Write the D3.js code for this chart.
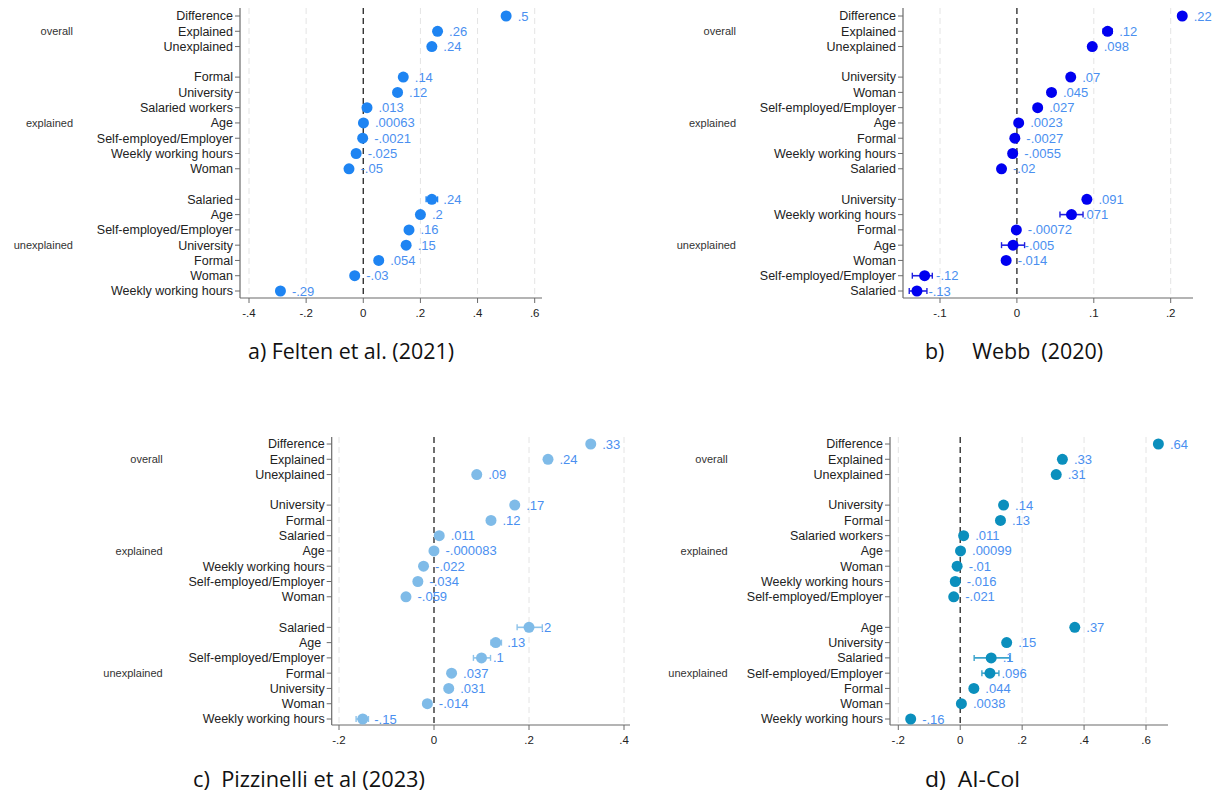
<!DOCTYPE html>
<html>
<head>
<meta charset="utf-8">
<script src="https://cdn.jsdelivr.net/npm/d3@7"></script>
<style>
html,body{margin:0;padding:0;background:#fff;}
svg{display:block;}
</style>
</head>
<body>
<svg id="chart" width="1217" height="796"></svg>
<script>
// ---------- DATA ----------
const groupNames = ["overall", "explained", "unexplained"];

// Panel a) Felten et al. (2021)
const aOverall = ["Difference", "Explained", "Unexplained"];
const aOverallVals = [0.5, 0.26, 0.24];
const aExplained = ["Formal", "University", "Salaried workers", "Age", "Self-employed/Employer", "Weekly working hours", "Woman"];
const aExplainedVals = [0.14, 0.12, 0.013, 0.00063, -0.0021, -0.025, -0.05];
const aUnexplained = ["Salaried", "Age", "Self-employed/Employer", "University", "Formal", "Woman", "Weekly working hours"];
const aUnexplainedVals = [0.24, 0.2, 0.16, 0.15, 0.054, -0.03, -0.29];
const aLabels = [".5", ".26", ".24", ".14", ".12", ".013", ".00063", "-.0021", "-.025", "-.05", ".24", ".2", ".16", ".15", ".054", "-.03", "-.29"];
const aCI = [null, null, null, null, null, null, null, null, null, null, [0.22, 0.26], null, [0.15, 0.17], null, null, null, null];
const aTicks = [-0.4, -0.2, 0, 0.2, 0.4, 0.6];
const aTickLabels = ["-.4", "-.2", "0", ".2", ".4", ".6"];

// Panel b) Webb (2020)
const bOverall = ["Difference", "Explained", "Unexplained"];
const bOverallVals = [0.215, 0.118, 0.098];
const bExplained = ["University", "Woman", "Self-employed/Employer", "Age", "Formal", "Weekly working hours", "Salaried"];
const bExplainedVals = [0.07, 0.045, 0.027, 0.0023, -0.0027, -0.0055, -0.02];
const bUnexplained = ["University", "Weekly working hours", "Formal", "Age", "Woman", "Self-employed/Employer", "Salaried"];
const bUnexplainedVals = [0.091, 0.071, -0.00072, -0.005, -0.014, -0.12, -0.13];
const bLabels = [".22", ".12", ".098", ".07", ".045", ".027", ".0023", "-.0027", "-.0055", "-.02", ".091", ".071", "-.00072", "-.005", "-.014", "-.12", "-.13"];
const bCI = [null, [0.112, 0.124], null, null, null, null, null, null, null, null, null, [0.056, 0.086], null, [-0.02, 0.01], null, [-0.136, -0.11], [-0.14, -0.117]];
const bTicks = [-0.1, 0, 0.1, 0.2];
const bTickLabels = ["-.1", "0", ".1", ".2"];

// Panel c) Pizzinelli et al (2023)
const cOverall = ["Difference", "Explained", "Unexplained"];
const cOverallVals = [0.33, 0.24, 0.09];
const cExplained = ["University", "Formal", "Salaried", "Age", "Weekly working hours", "Self-employed/Employer", "Woman"];
const cExplainedVals = [0.17, 0.12, 0.011, -0.000083, -0.022, -0.034, -0.059];
const cUnexplained = ["Salaried", "Age ", "Self-employed/Employer", "Formal", "University", "Woman", "Weekly working hours"];
const cUnexplainedVals = [0.2, 0.13, 0.1, 0.037, 0.031, -0.014, -0.15];
const cLabels = [".33", ".24", ".09", ".17", ".12", ".011", "-.000083", "-.022", "-.034", "-.059", ".2", ".13", ".1", ".037", ".031", "-.014", "-.15"];
const cCI = [null, null, null, null, null, null, null, null, null, null, [0.175, 0.228], [0.12, 0.142], [0.083, 0.119], null, null, null, [-0.164, -0.138]];
const cTicks = [-0.2, 0, 0.2, 0.4];
const cTickLabels = ["-.2", "0", ".2", ".4"];

// Panel d) AI-Col
const dOverall = ["Difference", "Explained", "Unexplained"];
const dOverallVals = [0.64, 0.33, 0.31];
const dExplained = ["University", "Formal", "Salaried workers", "Age", "Woman", "Weekly working hours", "Self-employed/Employer"];
const dExplainedVals = [0.14, 0.13, 0.011, 0.00099, -0.01, -0.016, -0.021];
const dUnexplained = ["Age", "University", "Salaried", "Self-employed/Employer", "Formal", "Woman", "Weekly working hours"];
const dUnexplainedVals = [0.37, 0.15, 0.1, 0.096, 0.044, 0.0038, -0.16];
const dLabels = [".64", ".33", ".31", ".14", ".13", ".011", ".00099", "-.01", "-.016", "-.021", ".37", ".15", ".1", ".096", ".044", ".0038", "-.16"];
const dCI = [null, null, null, null, null, null, null, null, null, null, null, null, [0.045, 0.16], [0.07, 0.125], null, null, null];
const dTicks = [-0.2, 0, 0.2, 0.4, 0.6];
const dTickLabels = ["-.2", "0", ".2", ".4", ".6"];

const captions = ["a) Felten et al. (2021)", "b)     Webb  (2020)", "c)  Pizzinelli et al (2023)", "d)  AI-Col"];

// ---------- DRAW ----------
const svg = d3.select("#chart");
const FONT = "'Liberation Sans', Arial, sans-serif";

function drawPanel(cfg) {
  const g = svg.append("g");
  const names = cfg.overall.concat(cfg.explained, cfg.unexplained);
  const vals = cfg.overallVals.concat(cfg.explainedVals, cfg.unexplainedVals);
  const rows = [0, 1, 2, 4, 5, 6, 7, 8, 9, 10, 12, 13, 14, 15, 16, 17, 18];
  const y = d3.scaleLinear().domain([0, 18]).range([cfg.rowTop, cfg.rowBot]);
  const x = d3.scaleLinear().domain(cfg.xDomain).range(cfg.xRange);

  // grid lines
  cfg.ticks.forEach(t => {
    if (t === 0) return;
    g.append("line").attr("x1", x(t)).attr("x2", x(t))
      .attr("y1", cfg.axisTop).attr("y2", cfg.axisBottom)
      .attr("stroke", "#e4e4e4").attr("stroke-width", 1).attr("stroke-dasharray", "6,4");
  });

  // axes
  g.append("line").attr("x1", cfg.axisX).attr("x2", cfg.axisX)
    .attr("y1", cfg.axisTop).attr("y2", cfg.axisBottom)
    .attr("stroke", "#6b6b6b").attr("stroke-width", 1.2);
  g.append("line").attr("x1", cfg.axisX).attr("x2", cfg.right)
    .attr("y1", cfg.axisBottom).attr("y2", cfg.axisBottom)
    .attr("stroke", "#6b6b6b").attr("stroke-width", 1.2);

  // y ticks and labels
  names.forEach((n, i) => {
    const yy = y(rows[i]);
    g.append("line").attr("x1", cfg.axisX - 5).attr("x2", cfg.axisX)
      .attr("y1", yy).attr("y2", yy).attr("stroke", "#6b6b6b").attr("stroke-width", 1);
    g.append("text").attr("x", cfg.axisX - 7).attr("y", yy).attr("dy", "0.35em")
      .attr("text-anchor", "end").attr("font-family", FONT).attr("font-size", 12.5)
      .attr("fill", "#222").style("white-space", "pre").text(n);
  });

  // group labels
  [1, 7, 15].forEach((r, i) => {
    g.append("text").attr("x", cfg.groupRight).attr("y", y(r)).attr("dy", "0.35em")
      .attr("text-anchor", "end").attr("font-family", FONT).attr("font-size", 11)
      .attr("fill", "#333").text(groupNames[i]);
  });

  // x ticks
  cfg.ticks.forEach((t, i) => {
    g.append("line").attr("x1", x(t)).attr("x2", x(t))
      .attr("y1", cfg.axisBottom).attr("y2", cfg.axisBottom + 5)
      .attr("stroke", "#6b6b6b").attr("stroke-width", 1);
    g.append("text").attr("x", x(t)).attr("y", cfg.axisBottom + 15).attr("dy", "0.35em")
      .attr("text-anchor", "middle").attr("font-family", FONT).attr("font-size", 11.5)
      .attr("fill", "#222").text(cfg.tickLabels[i]);
  });

  // zero line
  g.append("line").attr("x1", x(0)).attr("x2", x(0))
    .attr("y1", cfg.axisTop).attr("y2", cfg.axisBottom)
    .attr("stroke", "#333").attr("stroke-width", 1.4).attr("stroke-dasharray", "6,4");

  // CIs
  cfg.ci.forEach((c, i) => {
    if (!c) return;
    const yy = y(rows[i]);
    g.append("line").attr("x1", x(c[0])).attr("x2", x(c[1])).attr("y1", yy).attr("y2", yy)
      .attr("stroke", cfg.ciColor).attr("stroke-width", 1.6);
    c.forEach(v => {
      g.append("line").attr("x1", x(v)).attr("x2", x(v)).attr("y1", yy - 3).attr("y2", yy + 3)
        .attr("stroke", cfg.ciColor).attr("stroke-width", 1.4);
    });
  });

  // dots
  g.selectAll("circle.dot").data(vals).enter().append("circle")
    .attr("class", "dot")
    .attr("cx", d => x(d)).attr("cy", (d, i) => y(rows[i]))
    .attr("r", cfg.r).attr("fill", cfg.color);

  // value labels
  g.selectAll("text.val").data(vals).enter().append("text")
    .attr("class", "val")
    .attr("x", d => x(d) + cfg.r + 6).attr("y", (d, i) => y(rows[i])).attr("dy", "0.35em")
    .attr("font-family", FONT).attr("font-size", 13).attr("fill", "#4a8ff0")
    .text((d, i) => cfg.labels[i]);
}

drawPanel({
  overall: aOverall, overallVals: aOverallVals, explained: aExplained, explainedVals: aExplainedVals,
  unexplained: aUnexplained, unexplainedVals: aUnexplainedVals, labels: aLabels, ci: aCI,
  ticks: aTicks, tickLabels: aTickLabels,
  xDomain: [-0.4, 0.6], xRange: [249, 534.7],
  axisX: 240, right: 542, rowTop: 16, rowBot: 291, axisTop: 8, axisBottom: 298,
  groupRight: 73, color: "#1e84f2", ciColor: "#1e84f2", r: 5.5
});
drawPanel({
  overall: bOverall, overallVals: bOverallVals, explained: bExplained, explainedVals: bExplainedVals,
  unexplained: bUnexplained, unexplainedVals: bUnexplainedVals, labels: bLabels, ci: bCI,
  ticks: bTicks, tickLabels: bTickLabels,
  xDomain: [-0.1, 0.2], xRange: [940, 1170.7],
  axisX: 903, right: 1193, rowTop: 16, rowBot: 291, axisTop: 8, axisBottom: 298,
  groupRight: 736, color: "#0000f0", ciColor: "#2020e0", r: 5.5
});
drawPanel({
  overall: cOverall, overallVals: cOverallVals, explained: cExplained, explainedVals: cExplainedVals,
  unexplained: cUnexplained, unexplainedVals: cUnexplainedVals, labels: cLabels, ci: cCI,
  ticks: cTicks, tickLabels: cTickLabels,
  xDomain: [-0.2, 0.4], xRange: [339, 624],
  axisX: 331.7, right: 630, rowTop: 444, rowBot: 719, axisTop: 437, axisBottom: 725,
  groupRight: 162.7, color: "#7fbbe8", ciColor: "#8ec3ea", r: 5.5
});
drawPanel({
  overall: dOverall, overallVals: dOverallVals, explained: dExplained, explainedVals: dExplainedVals,
  unexplained: dUnexplained, unexplainedVals: dUnexplainedVals, labels: dLabels, ci: dCI,
  ticks: dTicks, tickLabels: dTickLabels,
  xDomain: [-0.2, 0.6], xRange: [898.3, 1146],
  axisX: 890, right: 1168, rowTop: 444, rowBot: 719, axisTop: 437, axisBottom: 725,
  groupRight: 727.7, color: "#0b8fbd", ciColor: "#3aa3cc", r: 5.5
});

// captions
const capPos = [[248, 352, 206], [925, 352, 178], [193, 780, 232], [925, 780, 95]];
captions.forEach((c, i) => {
  svg.append("text").attr("x", capPos[i][0]).attr("y", capPos[i][1]).attr("dy", "0.35em")
    .attr("font-family", "'Liberation Sans Narrow', 'Open Sans', Arial, sans-serif")
    .attr("font-size", 21).attr("fill", "#111").style("white-space", "pre")
    .attr("textLength", capPos[i][2]).attr("lengthAdjust", "spacingAndGlyphs")
    .text(c);
});
</script>
</body>
</html>
